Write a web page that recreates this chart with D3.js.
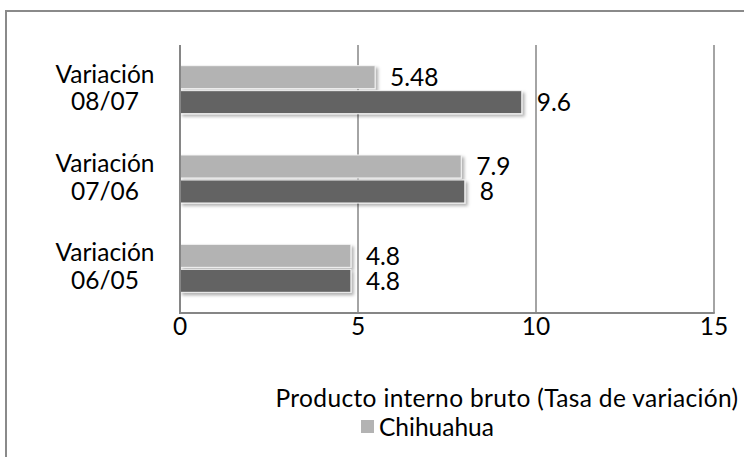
<!DOCTYPE html>
<html>
<head>
<meta charset="utf-8">
<script src="https://cdn.jsdelivr.net/npm/d3@7"></script>
<style>
  html, body { margin: 0; padding: 0; background: #ffffff; }
  svg { display: block; }
  text { font-family: Lato, "Open Sans", "DejaVu Sans", sans-serif; fill: #000; }
</style>
</head>
<body>
<script>
// Categories from bottom to top of the chart
const categories = ["Variación 06/05", "Variación 07/06", "Variación 08/07"];
const seriesNames = ["Chihuahua", "Nacional"];
const chihuahua = [4.8, 7.9, 5.48];
const nacional = [4.8, 8, 9.6];
const xTicks = [0, 5, 10, 15];
const titleText = "Producto interno bruto (Tasa de variación)";

const seriesValues = { "Chihuahua": chihuahua, "Nacional": nacional };
const seriesColors = { "Chihuahua": "#b3b3b3", "Nacional": "#636363" };

const W = 744, H = 457;
const plot = { left: 180, right: 714, top: 45, bottom: 313 };
const fontSize = 24.5;

const svg = d3.select("body").append("svg")
  .attr("width", W).attr("height", H);

// Soft drop shadow under the bars
const defs = svg.append("defs");
const f = defs.append("filter").attr("id", "shadow")
  .attr("x", "-5%").attr("y", "-30%").attr("width", "115%").attr("height", "180%");
f.append("feDropShadow")
  .attr("dx", 2.5).attr("dy", 2.5).attr("stdDeviation", 1.6)
  .attr("flood-color", "#000").attr("flood-opacity", 0.3);

// Chart frame
svg.append("rect")
  .attr("x", 6).attr("y", 11).attr("width", 800).attr("height", 500)
  .attr("fill", "none").attr("stroke", "#8a8a8a").attr("stroke-width", 2);

const x = d3.scaleLinear().domain([0, 15]).range([plot.left, plot.right]);

const bandPad = 0.463;
const y = d3.scaleBand().domain(categories)
  .range([plot.bottom, plot.top])
  .paddingInner(bandPad).paddingOuter(bandPad / 2);

// Chihuahua sits above the national bar in each group
const ySub = d3.scaleBand().domain(["Chihuahua", "Nacional"])
  .range([0, y.bandwidth()]).paddingInner(0.08);

// Vertical gridlines
svg.append("g").selectAll("line").data(xTicks).join("line")
  .attr("x1", d => x(d)).attr("x2", d => x(d))
  .attr("y1", plot.top).attr("y2", plot.bottom)
  .attr("stroke", "#868686").attr("stroke-width", 1.5);

// Bottom axis line
svg.append("line")
  .attr("x1", plot.left - 0.75).attr("x2", plot.right + 0.75)
  .attr("y1", plot.bottom).attr("y2", plot.bottom)
  .attr("stroke", "#868686").attr("stroke-width", 2);

// Bars
const rows = [];
categories.forEach((c, i) => {
  seriesNames.forEach(s => rows.push({ cat: c, series: s, value: seriesValues[s][i] }));
});

const barG = svg.append("g");
barG.selectAll("rect").data(rows).join("rect")
  .attr("x", x(0))
  .attr("y", d => y(d.cat) + ySub(d.series))
  .attr("width", d => x(d.value) - x(0))
  .attr("height", ySub.bandwidth())
  .attr("fill", d => seriesColors[d.series])
  .attr("stroke", "#f4f4f4").attr("stroke-width", 1)
  .attr("filter", "url(#shadow)");

// Value labels
svg.append("g").selectAll("text").data(rows).join("text")
  .attr("x", d => x(d.value) + 15)
  .attr("y", d => y(d.cat) + ySub(d.series) + ySub.bandwidth() / 2)
  .attr("dy", "0.36em")
  .attr("font-size", fontSize)
  .text(d => String(d.value));

// Left axis line over the bars
svg.append("line")
  .attr("x1", plot.left).attr("x2", plot.left)
  .attr("y1", plot.top).attr("y2", plot.bottom + 1)
  .attr("stroke", "#868686").attr("stroke-width", 2);

// Category labels (two lines each)
const catG = svg.append("g").selectAll("text").data(categories).join("text")
  .attr("text-anchor", "middle")
  .attr("font-size", fontSize)
  .attr("y", d => y(d) + y.bandwidth() / 2 - 2);
catG.each(function (d) {
  const parts = d.split(" ");
  const t = d3.select(this);
  parts.forEach((p, i) => {
    t.append("tspan").attr("x", 105)
      .attr("dy", i === 0 ? "-0.2em" : "1.12em")
      .text(p);
  });
});

// Tick labels
svg.append("g").selectAll("text").data(xTicks).join("text")
  .attr("x", d => x(d)).attr("y", 326)
  .attr("dy", "0.36em")
  .attr("text-anchor", "middle")
  .attr("font-size", fontSize)
  .text(d => d);

// Axis title
svg.append("text")
  .attr("x", 507).attr("y", 398).attr("dy", "0.36em")
  .attr("text-anchor", "middle")
  .attr("font-size", fontSize)
  .attr("letter-spacing", 0.35)
  .text(titleText);

// Legend (first entry)
const leg = svg.append("g");
leg.append("rect")
  .attr("x", 361).attr("y", 420).attr("width", 13).attr("height", 13)
  .attr("fill", seriesColors["Chihuahua"]);
leg.append("text")
  .attr("x", 379).attr("y", 427).attr("dy", "0.36em")
  .attr("font-size", fontSize)
  .text(seriesNames[0]);
</script>
</body>
</html>
